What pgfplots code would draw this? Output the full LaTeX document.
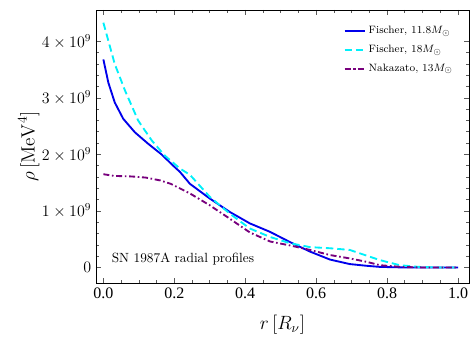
\documentclass[border=0pt]{standalone}
\usepackage{pgfplots}
\pgfplotsset{compat=1.18}
\usepackage{fontspec}
\newfontfamily\tickfont{Liberation Serif}
\definecolor{cblue}{RGB}{0,0,235}
\definecolor{ccyan}{RGB}{0,240,250}
\definecolor{cpurple}{RGB}{120,0,125}
\begin{document}
\begin{tikzpicture}
\begin{axis}[
  scale only axis,
  width=280pt, height=205pt,
  xmin=-0.021, xmax=1.031,
  ymin=-0.277, ymax=4.555,
  xtick={0,0.2,0.4,0.6,0.8,1.0},
  xticklabels={0.0,0.2,0.4,0.6,0.8,1.0},
  minor x tick num=3,
  ytick={0,1,2,3,4},
  yticklabels={$0$,$1\times10^{9}$,$2\times10^{9}$,$3\times10^{9}$,$4\times10^{9}$},
  minor y tick num=4,
  tick align=inside,
  major tick length=4pt,
  minor tick length=2.2pt,
  tick style={gray!70!black, line width=0.5pt},
  axis line style={black, line width=0.6pt},
  tick label style={font=\tickfont\large},
  /pgf/number format/assume math mode=true,
  xlabel={\Large $r\,[R_\nu]$},
  ylabel={\Large $\rho\,[\mathrm{MeV}^4]$},
  xlabel style={at={(axis description cs:0.5,-0.154)}, anchor=center},
  ylabel style={at={(axis description cs:-0.18,0.5)}, anchor=center},
  legend style={at={(rel axis cs:0.975,0.96)}, anchor=north east, draw=none, fill=none,
    font=\footnotesize, row sep=3pt},
  legend cell align=left,
  legend image post style={xscale=0.9},
]
\addplot[cblue, line width=1.4pt] coordinates {
(0,3.68) (0.014,3.27) (0.032,2.92) (0.056,2.63) (0.089,2.39) (0.126,2.19)
(0.164,2.00) (0.202,1.77) (0.216,1.69) (0.244,1.48) (0.30,1.22) (0.357,0.98)
(0.413,0.78) (0.47,0.63) (0.526,0.45) (0.583,0.28) (0.639,0.14) (0.695,0.06)
(0.742,0.03) (0.78,0.01) (0.85,0.0) (0.9,0.0) (1.0,0.0)
};
\addlegendentry{Fischer, $11.8M_\odot$}
\addplot[ccyan, line width=1.4pt, dash pattern=on 5.5pt off 3pt] coordinates {
(0,4.33) (0.032,3.60) (0.061,3.13) (0.098,2.60) (0.136,2.25) (0.173,1.98)
(0.216,1.75) (0.244,1.64) (0.30,1.25) (0.357,0.95) (0.413,0.69) (0.47,0.54)
(0.526,0.43) (0.583,0.36) (0.639,0.34) (0.695,0.31) (0.723,0.25) (0.742,0.21)
(0.78,0.13) (0.836,0.04) (0.89,0.01) (0.95,0.0) (1.0,0.0)
};
\addlegendentry{Fischer, $18M_\odot$}
\addplot[cpurple, line width=1.4pt, dash pattern=on 4.5pt off 2pt on 1.2pt off 2pt] coordinates {
(0,1.65) (0.03,1.62) (0.08,1.61) (0.12,1.59) (0.16,1.54) (0.19,1.48)
(0.244,1.31) (0.30,1.10) (0.357,0.86) (0.413,0.62) (0.47,0.46) (0.526,0.39)
(0.583,0.31) (0.639,0.22) (0.695,0.16) (0.742,0.10) (0.78,0.04) (0.84,0.01)
(0.9,0.0) (1.0,0.0)
};
\addlegendentry{Nakazato, $13M_\odot$}
\node[anchor=west] at (rel axis cs:0.03,0.087) {SN 1987A radial profiles};
\end{axis}
\pgfresetboundingbox
\path (current axis.south west) ++(-72pt,-41.3pt) coordinate (bbA);
\path (current axis.north east) ++(3pt,7.5pt) coordinate (bbB);
\useasboundingbox (bbA) rectangle (bbB);
\end{tikzpicture}
\end{document}
